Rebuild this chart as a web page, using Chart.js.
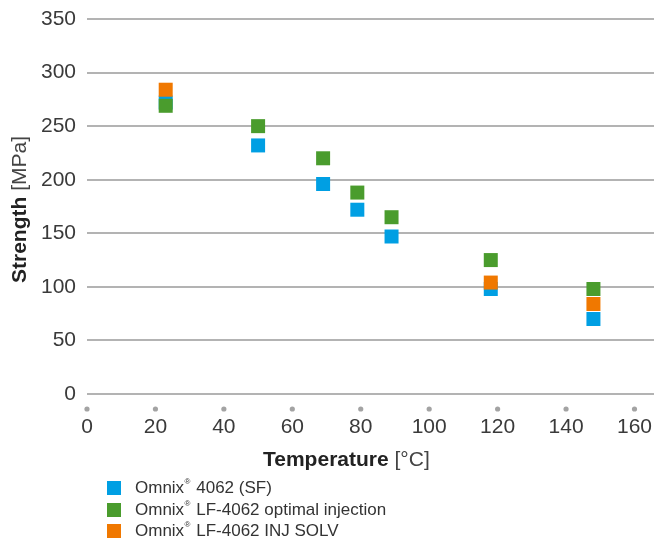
<!DOCTYPE html>
<html>
<head>
<meta charset="utf-8">
<script src="https://cdn.jsdelivr.net/npm/chart.js@4.4.1/dist/chart.umd.min.js"></script>
<style>
  html, body { margin: 0; padding: 0; background: #ffffff; }
  #wrap { position: relative; width: 654px; height: 540px; }
</style>
</head>
<body>
<div id="wrap"><canvas id="c" width="654" height="540"></canvas></div>
<script>
// ---- data ----
const seriesNames = ["Omnix® 4062 (SF)", "Omnix® LF-4062 optimal injection", "Omnix® LF-4062 INJ SOLV"];
const seriesColors = ["#009fe3", "#4a9c2d", "#f07800"];
const tempSF = [23, 50, 69, 79, 89, 118, 148];
const strengthSF = [272, 232, 196, 172, 147, 98, 70];
const tempOpt = [23, 50, 69, 79, 89, 118, 148];
const strengthOpt = [269, 250, 220, 188, 165, 125, 98];
const tempSolv = [23, 118, 148];
const strengthSolv = [284, 104, 84];
const xTicks = [0, 20, 40, 60, 80, 100, 120, 140, 160];
const yTicks = [0, 50, 100, 150, 200, 250, 300, 350];
const xTitleBold = "Temperature";
const xTitleRest = " [°C]";
const yTitleBold = "Strength";
const yTitleRest = " [MPa]";

const FONT = "'Liberation Sans', Arial, Helvetica, sans-serif";

function pts(xs, ys) { return xs.map((x, i) => ({ x: x, y: ys[i] })); }

const decorPlugin = {
  id: 'decor',
  afterDraw(chart) {
    const ctx = chart.ctx;
    const xs = chart.scales.x;
    const area = chart.chartArea;
    ctx.save();
    // tick dots
    ctx.fillStyle = '#a3a3a3';
    xs.ticks.forEach(t => {
      const px = xs.getPixelForValue(t.value);
      ctx.beginPath();
      ctx.arc(px, area.bottom + 15, 2.6, 0, Math.PI * 2);
      ctx.fill();
    });
    // x title
    ctx.fillStyle = '#222';
    ctx.textBaseline = 'middle';
    ctx.textAlign = 'left';
    ctx.font = 'bold 21px ' + FONT;
    const bx = 263, by = 460;
    ctx.fillText(xTitleBold, bx, by);
    const bw = ctx.measureText(xTitleBold).width;
    ctx.font = '21px ' + FONT;
    ctx.fillStyle = '#444';
    ctx.fillText(xTitleRest, bx + bw, by);
    // y title
    ctx.save();
    ctx.translate(20, 283);
    ctx.rotate(-Math.PI / 2);
    ctx.font = 'bold 21px ' + FONT;
    ctx.fillStyle = '#222';
    ctx.fillText(yTitleBold, 0, 0);
    const yw = ctx.measureText(yTitleBold).width;
    ctx.font = '21px ' + FONT;
    ctx.fillStyle = '#444';
    ctx.fillText(yTitleRest, yw, 0);
    ctx.restore();
    // legend
    const rows = [488, 510, 531];
    chart.data.datasets.forEach((ds, i) => {
      const cy = rows[i];
      ctx.fillStyle = ds.backgroundColor;
      ctx.fillRect(107, cy - 7, 14, 14);
      const parts = ds.label.split('®');
      let x = 135;
      ctx.fillStyle = '#333';
      ctx.textBaseline = 'middle';
      ctx.font = '17px ' + FONT;
      ctx.fillText(parts[0], x, cy);
      x += ctx.measureText(parts[0]).width + 0.5;
      if (parts.length > 1) {
        ctx.font = '8px ' + FONT;
        ctx.fillText('®', x, cy - 6);
        x += ctx.measureText('®').width + 1;
        ctx.font = '17px ' + FONT;
        ctx.fillText(parts[1], x, cy);
      }
    });
    ctx.restore();
  }
};

new Chart(document.getElementById('c'), {
  type: 'scatter',
  data: {
    datasets: [
      { label: seriesNames[0], data: pts(tempSF, strengthSF), backgroundColor: seriesColors[0], order: 3 },
      { label: seriesNames[1], data: pts(tempOpt, strengthOpt), backgroundColor: seriesColors[1], order: 2 },
      { label: seriesNames[2], data: pts(tempSolv, strengthSolv), backgroundColor: seriesColors[2], order: 1 }
    ]
  },
  options: {
    responsive: false,
    animation: false,
    devicePixelRatio: 1,
    layout: { autoPadding: false, padding: { top: 19, left: 0, right: 0, bottom: 0 } },
    elements: {
      point: { pointStyle: 'rect', radius: 9.9, hoverRadius: 9.9, borderWidth: 0 }
    },
    plugins: {
      legend: { display: false },
      tooltip: { enabled: false }
    },
    scales: {
      x: {
        type: 'linear',
        min: 0,
        max: 165.7,
        afterBuildTicks(scale) { scale.ticks = xTicks.map(v => ({ value: v })); },
        afterFit(scale) { scale.height = 146; scale.paddingLeft = 0; scale.paddingRight = 0; },
        grid: { display: false, drawTicks: false },
        border: { display: false },
        ticks: {
          padding: 21,
          color: '#3a3a3a',
          font: { family: FONT, size: 21 },
          maxRotation: 0
        }
      },
      y: {
        min: 0,
        max: 350,
        afterBuildTicks(scale) { scale.ticks = yTicks.map(v => ({ value: v })); },
        afterFit(scale) { scale.width = 87; scale.paddingTop = 0; scale.paddingBottom = 0; },
        grid: { color: '#b3b3b3', lineWidth: 2, drawTicks: false },
        border: { display: false },
        ticks: {
          padding: 11,
          color: '#3a3a3a',
          font: { family: FONT, size: 21 }
        }
      }
    }
  },
  plugins: [decorPlugin]
});
</script>
</body>
</html>
